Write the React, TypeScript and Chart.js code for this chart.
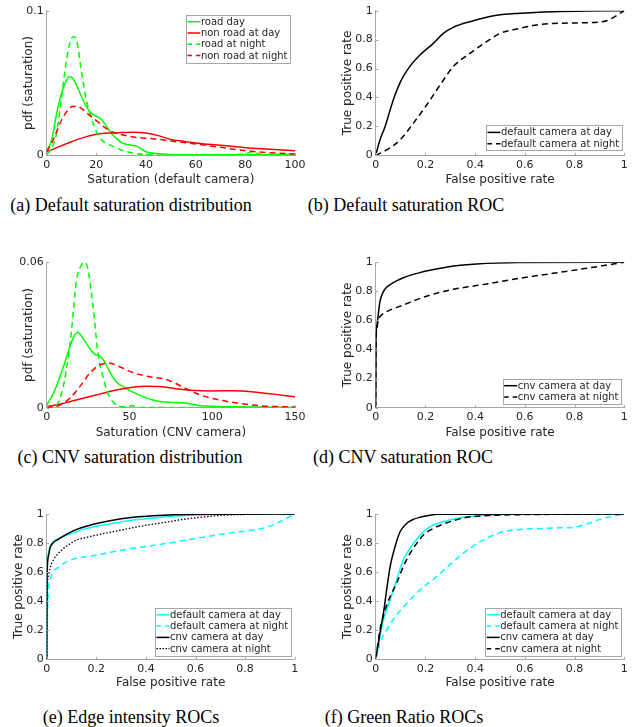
import React, { useEffect, useRef } from "react";
import { Chart, registerables } from "chart.js";
Chart.register(...registerables);

const GREEN = "#00ff00";
const RED = "#ff0000";
const CYAN = "#00ffff";
const BLACK = "#000000";
const SOLID: number[] = [];
const DASH = [6, 4];
const DOT = [1.5, 1.8];

// ---------- tick values / labels ----------
const satDefaultXTicks = [0, 20, 40, 60, 80, 100];
const satDefaultXLabels = ["0", "20", "40", "60", "80", "100"];
const satDefaultYTicks = [0, 0.1];
const satDefaultYLabels = ["0", "0.1"];
const satCnvXTicks = [0, 50, 100, 150];
const satCnvXLabels = ["0", "50", "100", "150"];
const satCnvYTicks = [0, 0.06];
const satCnvYLabels = ["0", "0.06"];
const rocTicks = [0, 0.2, 0.4, 0.6, 0.8, 1];
const rocLabels = ["0", "0.2", "0.4", "0.6", "0.8", "1"];

// ---------- (a) default saturation pdf ----------
const aRoadDayX = [0, 2, 4, 6, 8, 9, 10, 12, 14, 16, 18, 20, 22, 24, 26, 28, 30, 32, 34, 36, 38, 40, 44, 50, 60, 70, 80, 90, 100];
const aRoadDayY = [0.003, 0.0106, 0.029, 0.043, 0.052, 0.0544, 0.054, 0.0486, 0.0405, 0.0336, 0.029, 0.027, 0.0249, 0.0203, 0.0152, 0.0118, 0.009, 0.0076, 0.0069, 0.0065, 0.0044, 0.0025, 0.0012, 0.0005, 0.0003, 0.0003, 0.0003, 0.0004, 0.0006];
const aNonRoadDayX = [0, 5, 10, 15, 20, 25, 30, 35, 40, 45, 50, 55, 60, 70, 80, 90, 100];
const aNonRoadDayY = [0.0023, 0.006, 0.0094, 0.0124, 0.0145, 0.0154, 0.0157, 0.0159, 0.0154, 0.0136, 0.011, 0.0097, 0.0085, 0.0069, 0.0053, 0.0041, 0.0032];
const aRoadNightX = [0, 2, 4, 6, 8, 10, 11, 12, 14, 16, 18, 20, 22, 24, 26, 28, 30, 34, 40, 50, 60, 70, 76, 80, 83, 86, 90, 100];
const aRoadNightY = [0.0005, 0.0048, 0.0152, 0.0406, 0.066, 0.081, 0.082, 0.0797, 0.058, 0.038, 0.0256, 0.0164, 0.011, 0.0083, 0.0067, 0.0053, 0.0037, 0.0018, 0.0005, 0.0002, 0.0002, 0.0002, 0.0004, 0.0012, 0.0025, 0.0008, 0.0005, 0.0005];
const aNonRoadNightX = [0, 2, 4, 6, 8, 10, 12, 14, 16, 18, 20, 22, 25, 28, 32, 36, 40, 45, 50, 60, 70, 80, 90, 100];
const aNonRoadNightY = [0.0025, 0.0083, 0.0164, 0.0244, 0.03, 0.0336, 0.034, 0.0325, 0.0295, 0.0267, 0.024, 0.021, 0.0175, 0.0152, 0.0136, 0.0124, 0.0118, 0.011, 0.0099, 0.0078, 0.0055, 0.0032, 0.0018, 0.0009];

// ---------- (c) CNV saturation pdf ----------
const cRoadDayX = [0, 4, 8, 12, 15, 18.5, 22, 26, 29, 32, 35, 38, 42, 48, 56, 66, 78, 85, 93, 113, 150];
const cRoadDayY = [0.0011, 0.0059, 0.0128, 0.0209, 0.0272, 0.0311, 0.0286, 0.0245, 0.0221, 0.0213, 0.019, 0.0149, 0.0107, 0.008, 0.0052, 0.0029, 0.0021, 0.0018, 0.0008, 0.0004, 0.0001];
const cNonRoadDayX = [0, 12, 22, 32, 42, 52, 60, 68, 78, 87, 99, 113, 125, 137, 150];
const cNonRoadDayY = [0.0003, 0.0021, 0.0039, 0.0056, 0.0073, 0.0084, 0.0088, 0.0087, 0.0078, 0.0072, 0.0069, 0.007, 0.0065, 0.0056, 0.0045];
const cRoadNightX = [0, 5, 10, 13, 15, 18, 21, 23, 25, 28, 31, 34, 37, 41, 46, 52, 56, 150];
const cRoadNightY = [0, 0.0004, 0.0087, 0.021, 0.032, 0.0527, 0.0589, 0.06, 0.0569, 0.0417, 0.0224, 0.0128, 0.0059, 0.0018, 0.0004, 0.0008, 0.0001, 0];
const cNonRoadNightX = [0, 8, 14, 20, 26, 32, 38, 44, 52, 62, 72, 78, 85, 93, 103, 113, 129, 150];
const cNonRoadNightY = [0, 0.0011, 0.0039, 0.0087, 0.0142, 0.0176, 0.0183, 0.0169, 0.0145, 0.0128, 0.0117, 0.01, 0.0076, 0.0052, 0.0034, 0.0021, 0.0008, 0.0003];

// ---------- (b) default saturation ROC ----------
const bDayX = [0, 0.017, 0.0375, 0.058, 0.074, 0.091, 0.111, 0.145, 0.178, 0.232, 0.272, 0.312, 0.379, 0.487, 0.58, 0.714, 0.849, 1];
const bDayY = [0, 0.106, 0.198, 0.313, 0.4, 0.475, 0.545, 0.632, 0.694, 0.774, 0.843, 0.885, 0.924, 0.968, 0.982, 0.993, 0.998, 1];
const bNightX = [0, 0.044, 0.098, 0.151, 0.205, 0.259, 0.312, 0.379, 0.446, 0.5, 0.58, 0.647, 0.714, 0.849, 0.929, 1];
const bNightY = [0, 0.037, 0.106, 0.221, 0.348, 0.486, 0.613, 0.705, 0.786, 0.843, 0.878, 0.901, 0.912, 0.917, 0.931, 1];

// ---------- (d) CNV saturation ROC ----------
const dDayX = [0, 0.001, 0.004, 0.011, 0.017, 0.031, 0.044, 0.071, 0.111, 0.178, 0.245, 0.312, 0.406, 0.58, 1];
const dDayY = [0, 0.45, 0.557, 0.649, 0.729, 0.798, 0.828, 0.86, 0.894, 0.929, 0.954, 0.975, 0.989, 0.998, 1];
const dNightX = [0, 0.001, 0.004, 0.011, 0.024, 0.044, 0.111, 0.178, 0.245, 0.312, 0.379, 0.446, 0.58, 0.714, 0.849, 1];
const dNightY = [0, 0.42, 0.534, 0.603, 0.638, 0.661, 0.706, 0.752, 0.787, 0.814, 0.833, 0.851, 0.89, 0.924, 0.959, 1];

// ---------- (e) edge intensity ROCs ----------
const eDefDayX = [0, 0.001, 0.0067, 0.013, 0.027, 0.047, 0.081, 0.148, 0.215, 0.282, 0.349, 0.417, 0.484, 0.578, 0.7, 1];
const eDefDayY = [0, 0.55, 0.729, 0.775, 0.81, 0.83, 0.855, 0.894, 0.92, 0.94, 0.959, 0.97, 0.982, 0.993, 0.998, 1];
const eDefNightX = [0, 0.003, 0.0067, 0.013, 0.027, 0.047, 0.081, 0.121, 0.188, 0.255, 0.349, 0.417, 0.484, 0.551, 0.618, 0.685, 0.753, 0.833, 0.887, 0.941, 1];
const eDefNightY = [0, 0.294, 0.477, 0.546, 0.603, 0.633, 0.672, 0.695, 0.713, 0.736, 0.764, 0.78, 0.798, 0.817, 0.837, 0.856, 0.872, 0.89, 0.908, 0.947, 1];
const eCnvDayX = [0, 0.001, 0.0067, 0.013, 0.027, 0.047, 0.081, 0.121, 0.188, 0.255, 0.349, 0.417, 0.511, 0.7, 1];
const eCnvDayY = [0, 0.546, 0.706, 0.764, 0.803, 0.826, 0.862, 0.894, 0.929, 0.954, 0.977, 0.986, 0.995, 0.999, 1];
const eCnvNightX = [0, 0.001, 0.0067, 0.013, 0.027, 0.047, 0.081, 0.121, 0.161, 0.215, 0.282, 0.349, 0.417, 0.484, 0.551, 0.618, 0.726, 1];
const eCnvNightY = [0, 0.408, 0.569, 0.626, 0.683, 0.729, 0.78, 0.821, 0.839, 0.86, 0.883, 0.906, 0.927, 0.945, 0.963, 0.977, 0.993, 1];

// ---------- (f) green ratio ROCs ----------
const fDefDayX = [0, 0.031, 0.058, 0.084, 0.111, 0.138, 0.165, 0.192, 0.232, 0.286, 0.353, 0.446, 0.58, 1];
const fDefDayY = [0, 0.271, 0.408, 0.546, 0.683, 0.764, 0.826, 0.878, 0.924, 0.954, 0.977, 0.991, 0.998, 1];
const fDefNightX = [0, 0.017, 0.044, 0.084, 0.125, 0.178, 0.245, 0.312, 0.379, 0.446, 0.513, 0.58, 0.647, 0.714, 0.795, 0.849, 0.915, 1];
const fDefNightY = [0, 0.11, 0.202, 0.305, 0.385, 0.477, 0.569, 0.672, 0.764, 0.833, 0.878, 0.894, 0.899, 0.904, 0.908, 0.931, 0.97, 1];
const fCnvDayX = [0, 0.017, 0.031, 0.044, 0.058, 0.074, 0.098, 0.125, 0.151, 0.178, 0.218, 0.245, 1];
const fCnvDayY = [0, 0.179, 0.317, 0.477, 0.638, 0.752, 0.878, 0.936, 0.963, 0.977, 0.991, 0.998, 1];
const fCnvNightX = [0, 0.017, 0.0375, 0.058, 0.084, 0.111, 0.138, 0.165, 0.192, 0.232, 0.272, 0.312, 0.366, 0.42, 0.513, 1];
const fCnvNightY = [0, 0.2, 0.339, 0.431, 0.523, 0.638, 0.729, 0.798, 0.856, 0.901, 0.931, 0.954, 0.977, 0.986, 0.993, 1];

const captions = [
  "(a) Default saturation distribution",
  "(b) Default saturation ROC",
  "(c) CNV saturation distribution",
  "(d) CNV saturation ROC",
  "(e) Edge intensity ROCs",
  "(f) Green Ratio ROCs",
];

// ---------- types ----------
type Series = { label: string; xs: number[]; ys: number[]; color: string; dash: number[]; width?: number };
type Rect = { left: number; top: number; width: number; height: number };
type Panel = {
  canvas: Rect;
  plot: { left: number; top: number; right: number; bottom: number };
  yTitleX: number;
  xTitleY: number;
  xMin: number; xMax: number; xTicks: number[]; xLabels: string[];
  yMin: number; yMax: number; yTicks: number[]; yLabels: string[];
  xTitle: string; yTitle: string;
  series: Series[];
  legend: null | { corner: "ne" | "se"; dx: number; dy: number };
  caption: string; captionX: number; captionY: number;
};

const FONT = '"DejaVu Sans", sans-serif';
const TEXT = "#262626";
const AXIS = "#a6a6a6";
const TICK_SIZE = 11;
const TITLE_SIZE = 12;
const LEGEND_SIZE = 10;

const panels: Panel[] = [
  {
    canvas: { left: 0, top: 0, width: 320, height: 190 },
    plot: { left: 46.7, top: 10.7, right: 295, bottom: 155.3 },
    yTitleX: 29.3, xTitleY: 180,
    xMin: 0, xMax: 100, xTicks: satDefaultXTicks, xLabels: satDefaultXLabels,
    yMin: 0, yMax: 0.1, yTicks: satDefaultYTicks, yLabels: satDefaultYLabels,
    xTitle: "Saturation (default camera)", yTitle: "pdf (saturation)",
    series: [
      { label: "road day", xs: aRoadDayX, ys: aRoadDayY, color: GREEN, dash: SOLID },
      { label: "non road at day", xs: aNonRoadDayX, ys: aNonRoadDayY, color: RED, dash: SOLID },
      { label: "road at night", xs: aRoadNightX, ys: aRoadNightY, color: GREEN, dash: DASH },
      { label: "non road at night", xs: aNonRoadNightX, ys: aNonRoadNightY, color: RED, dash: DASH },
    ],
    legend: { corner: "ne", dx: 5, dy: 4 },
    caption: captions[0], captionX: 131, captionY: 205,
  },
  {
    canvas: { left: 320, top: 0, width: 320, height: 190 },
    plot: { left: 375.7, top: 10.7, right: 624.3, bottom: 155.3 },
    yTitleX: 348.3, xTitleY: 180,
    xMin: 0, xMax: 1, xTicks: rocTicks, xLabels: rocLabels,
    yMin: 0, yMax: 1, yTicks: rocTicks, yLabels: rocLabels,
    xTitle: "False positive rate", yTitle: "True positive rate",
    series: [
      { label: "default camera at day", xs: bDayX, ys: bDayY, color: BLACK, dash: SOLID },
      { label: "default camera at night", xs: bNightX, ys: bNightY, color: BLACK, dash: DASH },
    ],
    legend: { corner: "se", dx: 2.6, dy: 4.6 },
    caption: captions[1], captionX: 406, captionY: 205,
  },
  {
    canvas: { left: 0, top: 230, width: 320, height: 213 },
    plot: { left: 46.7, top: 262.3, right: 295, bottom: 407.7 },
    yTitleX: 29.3, xTitleY: 433,
    xMin: 0, xMax: 150, xTicks: satCnvXTicks, xLabels: satCnvXLabels,
    yMin: 0, yMax: 0.06, yTicks: satCnvYTicks, yLabels: satCnvYLabels,
    xTitle: "Saturation (CNV camera)", yTitle: "pdf (saturation)",
    series: [
      { label: "road day", xs: cRoadDayX, ys: cRoadDayY, color: GREEN, dash: SOLID },
      { label: "non road at day", xs: cNonRoadDayX, ys: cNonRoadDayY, color: RED, dash: SOLID },
      { label: "road at night", xs: cRoadNightX, ys: cRoadNightY, color: GREEN, dash: DASH },
      { label: "non road at night", xs: cNonRoadNightX, ys: cNonRoadNightY, color: RED, dash: DASH },
    ],
    legend: null,
    caption: captions[2], captionX: 130, captionY: 457,
  },
  {
    canvas: { left: 320, top: 230, width: 320, height: 213 },
    plot: { left: 375.7, top: 262.3, right: 624.3, bottom: 407.7 },
    yTitleX: 348.3, xTitleY: 433,
    xMin: 0, xMax: 1, xTicks: rocTicks, xLabels: rocLabels,
    yMin: 0, yMax: 1, yTicks: rocTicks, yLabels: rocLabels,
    xTitle: "False positive rate", yTitle: "True positive rate",
    series: [
      { label: "cnv camera at day", xs: dDayX, ys: dDayY, color: BLACK, dash: SOLID },
      { label: "cnv camera at night", xs: dNightX, ys: dNightY, color: BLACK, dash: DASH },
    ],
    legend: { corner: "se", dx: 3.3, dy: 3.7 },
    caption: captions[3], captionX: 403, captionY: 457,
  },
  {
    canvas: { left: 0, top: 490, width: 320, height: 205 },
    plot: { left: 46.7, top: 514, right: 294.7, bottom: 659.3 },
    yTitleX: 19.3, xTitleY: 683,
    xMin: 0, xMax: 1, xTicks: rocTicks, xLabels: rocLabels,
    yMin: 0, yMax: 1, yTicks: rocTicks, yLabels: rocLabels,
    xTitle: "False positive rate", yTitle: "True positive rate",
    series: [
      { label: "default camera at day", xs: eDefDayX, ys: eDefDayY, color: CYAN, dash: SOLID },
      { label: "default camera at night", xs: eDefNightX, ys: eDefNightY, color: CYAN, dash: DASH },
      { label: "cnv camera at day", xs: eCnvDayX, ys: eCnvDayY, color: BLACK, dash: SOLID },
      { label: "cnv camera at night", xs: eCnvNightX, ys: eCnvNightY, color: BLACK, dash: DOT, width: 1.3 },
    ],
    legend: { corner: "se", dx: 4, dy: 3.6 },
    caption: captions[4], captionX: 131, captionY: 717,
  },
  {
    canvas: { left: 320, top: 490, width: 320, height: 205 },
    plot: { left: 375.7, top: 514, right: 624.3, bottom: 659.3 },
    yTitleX: 348.3, xTitleY: 683,
    xMin: 0, xMax: 1, xTicks: rocTicks, xLabels: rocLabels,
    yMin: 0, yMax: 1, yTicks: rocTicks, yLabels: rocLabels,
    xTitle: "False positive rate", yTitle: "True positive rate",
    series: [
      { label: "default camera at day", xs: fDefDayX, ys: fDefDayY, color: CYAN, dash: SOLID },
      { label: "default camera at night", xs: fDefNightX, ys: fDefNightY, color: CYAN, dash: DASH },
      { label: "cnv camera at day", xs: fCnvDayX, ys: fCnvDayY, color: BLACK, dash: SOLID },
      { label: "cnv camera at night", xs: fCnvNightX, ys: fCnvNightY, color: BLACK, dash: DASH },
    ],
    legend: { corner: "se", dx: 3.3, dy: 3.6 },
    caption: captions[5], captionX: 404, captionY: 717,
  },
];

function makeTickPlugin() {
  return {
    id: "innerTicks",
    afterDatasetsDraw(chart: any) {
      const { ctx, chartArea, scales } = chart;
      ctx.save();
      ctx.strokeStyle = AXIS;
      ctx.lineWidth = 1;
      const len = 2.5;
      for (const t of scales.x.ticks) {
        const px = Math.round(scales.x.getPixelForValue(t.value)) + 0.5;
        ctx.beginPath();
        ctx.moveTo(px, chartArea.bottom);
        ctx.lineTo(px, chartArea.bottom - len);
        ctx.stroke();
      }
      for (const t of scales.y.ticks) {
        const py = Math.round(scales.y.getPixelForValue(t.value)) + 0.5;
        ctx.beginPath();
        ctx.moveTo(chartArea.left, py);
        ctx.lineTo(chartArea.left + len, py);
        ctx.stroke();
      }
      ctx.restore();
    },
  };
}

function makeLegendPlugin(panel: Panel) {
  return {
    id: "matlabLegend",
    afterDraw(chart: any) {
      if (!panel.legend) return;
      const { ctx, chartArea } = chart;
      const lg = panel.legend;
      ctx.save();
      ctx.font = `${LEGEND_SIZE}px ${FONT}`;
      const textW = Math.max(...panel.series.map((s) => ctx.measureText(s.label).width));
      const sampleW = 13;
      const rowH = 11.3;
      const w = 1.5 + sampleW + 0.5 + textW + 2.5;
      const h = 14 + (panel.series.length - 1) * rowH;
      const x = chartArea.right - lg.dx - w;
      const y = lg.corner === "ne" ? chartArea.top + lg.dy : chartArea.bottom - lg.dy - h;
      ctx.fillStyle = "#ffffff";
      ctx.fillRect(x, y, w, h);
      ctx.strokeStyle = AXIS;
      ctx.lineWidth = 1;
      ctx.strokeRect(Math.round(x) + 0.5, Math.round(y) + 0.5, Math.round(w), Math.round(h));
      panel.series.forEach((s, i) => {
        const cy = y + 7 + i * rowH;
        ctx.beginPath();
        ctx.setLineDash(s.dash.length === 0 ? [] : s.dash === DOT ? [1.5, 1.5] : [4.5, 4]);
        ctx.strokeStyle = s.color;
        ctx.lineWidth = s.width ?? 1.5;
        ctx.moveTo(x + 1.5, cy);
        ctx.lineTo(x + 1.5 + sampleW, cy);
        ctx.stroke();
        ctx.setLineDash([]);
        ctx.fillStyle = TEXT;
        ctx.textBaseline = "middle";
        ctx.textAlign = "left";
        ctx.fillText(s.label, x + 1.5 + sampleW + 0.5, cy + 0.5);
      });
      ctx.restore();
    },
  };
}

function PanelChart({ panel }: { panel: Panel }) {
  const ref = useRef<HTMLCanvasElement | null>(null);
  useEffect(() => {
    if (!ref.current) return;
    const c = panel.canvas;
    const padTop = panel.plot.top - c.top;
    const padRight = c.left + c.width - panel.plot.right;
    const yAxisW = panel.plot.left - c.left;
    const xAxisH = c.top + c.height - panel.plot.bottom;
    const titleLH = TITLE_SIZE * 1.2;
    const yTitlePad = panel.yTitleX - c.left - titleLH / 2;
    const xTitlePad = c.top + c.height - titleLH / 2 - panel.xTitleY;
    const n = panel.series.length;
    const chart = new Chart(ref.current, {
      type: "line",
      data: {
        datasets: panel.series.map((s, i) => ({
          label: s.label,
          data: s.xs.map((x, j) => ({ x, y: s.ys[j] })),
          borderColor: s.color,
          backgroundColor: s.color,
          borderWidth: s.width ?? 1.5,
          borderDash: s.dash,
          pointRadius: 0,
          fill: false,
          cubicInterpolationMode: "monotone",
          order: n - i,
        })),
      },
      options: {
        responsive: false,
        animation: false,
        devicePixelRatio: 1,
        events: [],
        layout: { padding: { left: 0, top: padTop, right: padRight, bottom: 0 } },
        plugins: { legend: { display: false }, tooltip: { enabled: false } },
        scales: {
          x: {
            type: "linear",
            min: panel.xMin,
            max: panel.xMax,
            afterBuildTicks: (s: any) => {
              s.ticks = panel.xTicks.map((v) => ({ value: v }));
            },
            afterFit: (s: any) => {
              s.height = xAxisH;
            },
            ticks: {
              autoSkip: false,
              maxRotation: 0,
              padding: 3,
              color: TEXT,
              font: { family: FONT, size: TICK_SIZE },
              callback: (v: any) => panel.xLabels[panel.xTicks.indexOf(Number(v))] ?? "",
            },
            grid: { display: false, drawTicks: false },
            border: { display: true, color: AXIS, width: 1 },
            title: {
              display: true,
              text: panel.xTitle,
              color: TEXT,
              font: { family: FONT, size: TITLE_SIZE },
              padding: { top: 0, bottom: xTitlePad },
            },
          },
          y: {
            type: "linear",
            min: panel.yMin,
            max: panel.yMax,
            afterBuildTicks: (s: any) => {
              s.ticks = panel.yTicks.map((v) => ({ value: v }));
            },
            afterFit: (s: any) => {
              s.width = yAxisW;
            },
            ticks: {
              autoSkip: false,
              padding: 3,
              color: TEXT,
              font: { family: FONT, size: TICK_SIZE },
              callback: (v: any) => panel.yLabels[panel.yTicks.indexOf(Number(v))] ?? "",
            },
            grid: { display: false, drawTicks: false },
            border: { display: true, color: AXIS, width: 1 },
            title: {
              display: true,
              text: panel.yTitle,
              color: TEXT,
              font: { family: FONT, size: TITLE_SIZE },
              padding: { top: yTitlePad, bottom: 0 },
            },
          },
        },
      } as any,
      plugins: [makeTickPlugin(), makeLegendPlugin(panel)],
    });
    return () => chart.destroy();
  }, [panel]);
  const c = panel.canvas;
  return (
    <canvas
      ref={ref}
      width={c.width}
      height={c.height}
      style={{ position: "absolute", left: c.left, top: c.top, width: c.width, height: c.height }}
    />
  );
}

export default function App() {
  return (
    <div style={{ position: "absolute", left: 0, top: 0, width: 640, height: 727, background: "#ffffff" }}>
      {panels.map((p, i) => (
        <PanelChart key={i} panel={p} />
      ))}
      {panels.map((p, i) => (
        <div
          key={"cap" + i}
          style={{
            position: "absolute",
            left: p.captionX - 160,
            top: p.captionY - 11,
            width: 320,
            height: 22,
            lineHeight: "22px",
            textAlign: "center",
            fontFamily: '"Liberation Serif", "Times New Roman", serif',
            fontSize: 18,
            color: "#000",
            whiteSpace: "nowrap",
          }}
        >
          {p.caption}
        </div>
      ))}
    </div>
  );
}
